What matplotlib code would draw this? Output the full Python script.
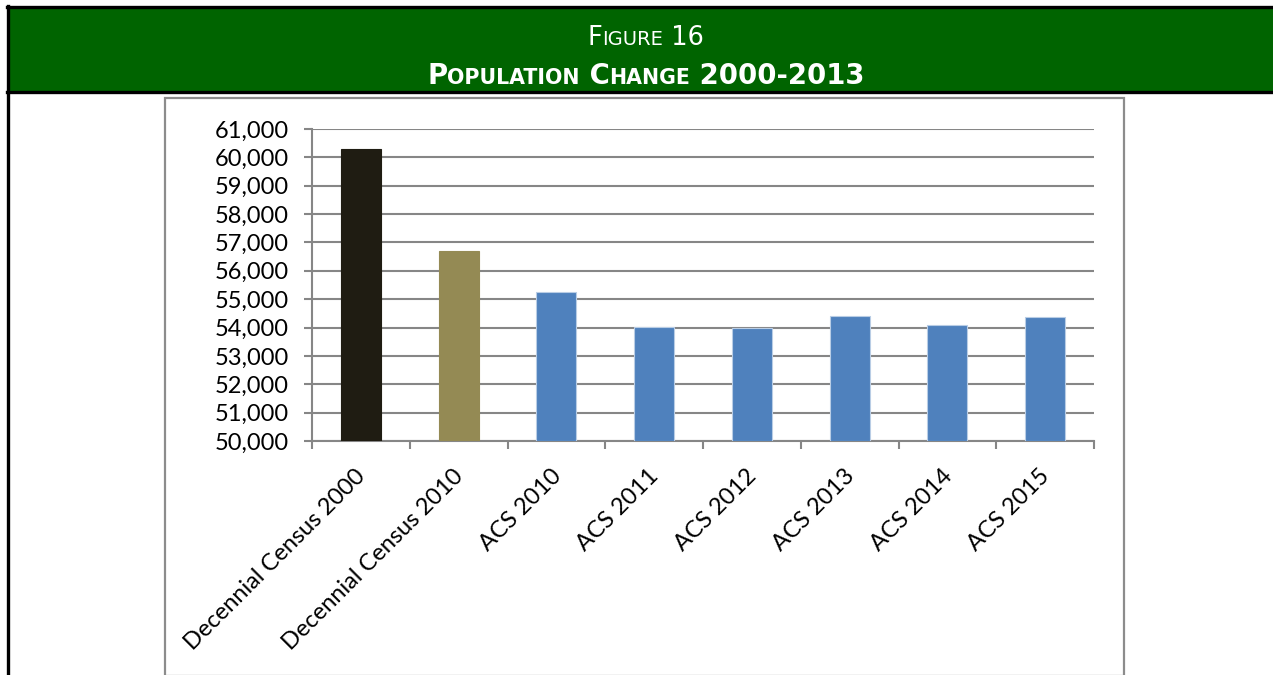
import matplotlib
matplotlib.use("Agg")
import matplotlib.pyplot as plt
from matplotlib.patches import Rectangle
from matplotlib.lines import Line2D
from matplotlib.ticker import FuncFormatter, FixedLocator
from matplotlib.transforms import ScaledTranslation

# Data
categories = ["Decennial Census 2000", "Decennial Census 2010", "ACS 2010", "ACS 2011",
              "ACS 2012", "ACS 2013", "ACS 2014", "ACS 2015"]
population = [60290, 56700, 55270, 54010, 53980, 54390, 54080, 54360]
bar_colors = ["#1F1C12", "#948A54", "#4F81BD", "#4F81BD",
              "#4F81BD", "#4F81BD", "#4F81BD", "#4F81BD"]
y_ticks = list(range(50000, 61001, 1000))

W, H = 1273, 675
fig = plt.figure(figsize=(W / 100, H / 100), dpi=100)
fig.patch.set_facecolor("white")


def fx(px):
    return px / W


def fy(py):
    return 1 - py / H


# Green header band and black frame
fig.add_artist(Rectangle((fx(9), fy(91)), fx(W - 9), (91 - 8) / H,
                         transform=fig.transFigure, facecolor="#006400", edgecolor="none"))
frame = "black"
fig.add_artist(Line2D([fx(7), fx(W)], [fy(7), fy(7)], transform=fig.transFigure, color=frame, lw=2.4))
fig.add_artist(Line2D([fx(7), fx(W)], [fy(92), fy(92)], transform=fig.transFigure, color=frame, lw=2.4))
fig.add_artist(Line2D([fx(8), fx(8)], [fy(6), fy(H)], transform=fig.transFigure, color=frame, lw=2.4))

# Grey chart box
fig.add_artist(Rectangle((fx(165), fy(676)), fx(1124 - 165), (676 - 98) / H,
                         transform=fig.transFigure, facecolor="none", edgecolor="#8C8C8C", lw=1.6))


# Small caps title written as runs of text
def small_caps(runs, cx, y, weight):
    r = fig.canvas.get_renderer()
    texts = []
    for s, size in runs:
        t = fig.text(0, fy(y), s, fontsize=size, color="white", fontweight=weight,
                     family="DejaVu Sans", va="baseline", ha="left")
        texts.append(t)
    widths = [t.get_window_extent(r).width for t in texts]
    x = cx - sum(widths) / 2
    for t, w in zip(texts, widths):
        t.set_x(fx(x))
        x += w


small_caps([("F", 18.5), ("IGURE", 14), (" 16", 18.5)], 646, 45, "normal")
small_caps([("P", 19.8), ("OPULATION", 14.8), (" C", 19.8), ("HANGE", 14.8), (" 2000-2013", 19.8)],
           646, 84, "bold")

# Plot area
ax = fig.add_axes([fx(312), fy(441), fx(1094 - 312), (441 - 129) / H])
x = range(len(categories))
for i, (v, c) in enumerate(zip(population, bar_colors)):
    ec = "#B9CDE5" if c == "#4F81BD" else c
    ax.bar(i, v - 50000, bottom=50000, width=0.41, color=c, edgecolor=ec, linewidth=0.8, zorder=3)

ax.set_xlim(-0.5, len(categories) - 0.5)
ax.set_ylim(50000, 61000)
gray = "#868686"
ax.yaxis.set_major_locator(FixedLocator(y_ticks))
ax.yaxis.set_major_formatter(FuncFormatter(lambda v, p: f"{int(v):,}"))
ax.grid(axis="y", color=gray, lw=1.5, zorder=0)
for s in ["top", "right"]:
    ax.spines[s].set_visible(False)
for s in ["left", "bottom"]:
    ax.spines[s].set_color(gray)
    ax.spines[s].set_linewidth(1.5)

ax.set_xticks([i - 0.5 for i in range(len(categories) + 1)], minor=False)
ax.set_xticklabels([])
ax.set_xticks(list(x), minor=True)
ax.set_xticklabels(categories, minor=True, rotation=45, ha="right", rotation_mode="anchor",
                   family="Lato", fontsize=17)
ax.tick_params(axis="x", which="major", direction="out", length=5.8, width=1.5, color=gray)
ax.tick_params(axis="x", which="minor", length=0, pad=14)
ax.tick_params(axis="y", direction="out", length=5.8, width=1.5, color=gray, pad=11)
for lab in ax.get_yticklabels():
    lab.set_family("Lato")
    lab.set_fontsize(17)
shift = ScaledTranslation(-6 / 100, -5 / 100, fig.dpi_scale_trans)
for lab in ax.get_xticklabels(minor=True):
    lab.set_transform(lab.get_transform() + shift)

fig.savefig("out.png", dpi=100, facecolor="white")
